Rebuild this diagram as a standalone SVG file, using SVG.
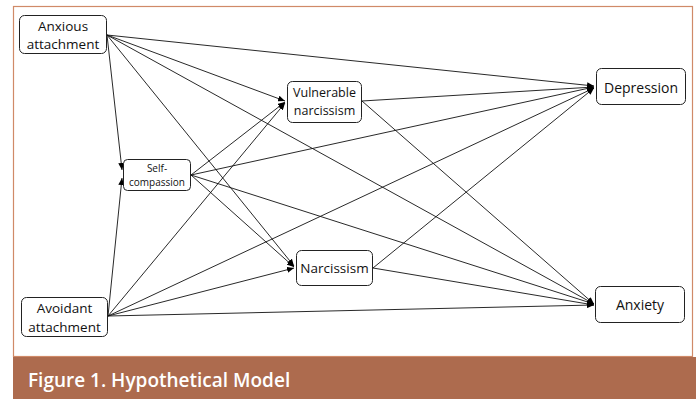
<svg xmlns="http://www.w3.org/2000/svg" width="696" height="399" viewBox="0 0 696 399">
<defs>
<marker id="ah" markerUnits="userSpaceOnUse" markerWidth="8" markerHeight="6" refX="7" refY="3" orient="auto">
<path d="M0,0 L7,3 L0,6 Z" fill="#000"/>
</marker>
<style>
.node rect{fill:#fff;stroke:#222;stroke-width:1}
.node text{font-family:"Open Sans","Liberation Sans",sans-serif;fill:#111;text-anchor:middle}
.conn line{stroke:#111;stroke-width:0.9;marker-end:url(#ah)}
.cap{font-family:"Open Sans","Liberation Sans",sans-serif;font-weight:600;fill:#fff;font-size:19px}
</style>
</defs>
<rect x="0" y="0" width="696" height="399" fill="#fff"/>
<rect x="13.5" y="6.5" width="679" height="350" fill="#fff" stroke="#d08a68" stroke-width="1.2"/>
<rect x="13" y="357" width="683" height="42" fill="#ad6b4e"/>
<text class="cap" x="28" y="387">Figure 1. Hypothetical Model</text>
<g class="conn" id="connectors">
<line x1="107" y1="35" x2="122" y2="170"/>
<line x1="107" y1="35" x2="285" y2="101"/>
<line x1="107" y1="35" x2="294" y2="266"/>
<line x1="107" y1="35" x2="594" y2="86"/>
<line x1="107" y1="35" x2="594" y2="304"/>
<line x1="108" y1="316" x2="122" y2="178"/>
<line x1="108" y1="316" x2="285" y2="103"/>
<line x1="108" y1="316" x2="294" y2="268"/>
<line x1="108" y1="316" x2="594" y2="88"/>
<line x1="108" y1="316" x2="594" y2="305"/>
<line x1="191" y1="175" x2="285" y2="102"/>
<line x1="191" y1="175" x2="294" y2="267"/>
<line x1="191" y1="175" x2="594" y2="87"/>
<line x1="191" y1="175" x2="594" y2="304"/>
<line x1="362" y1="101" x2="594" y2="87"/>
<line x1="362" y1="101" x2="594" y2="304"/>
<line x1="373" y1="268" x2="594" y2="88"/>
<line x1="373" y1="268" x2="594" y2="305"/>
</g>
<g class="node" id="anxious">
<rect x="19.5" y="15.5" width="87" height="38" rx="5"/>
<text x="63" y="31" font-size="13.5">Anxious</text>
<text x="63" y="49" font-size="13.5">attachment</text>
</g>
<g class="node" id="avoidant">
<rect x="21.5" y="297.5" width="86" height="39" rx="5"/>
<text x="64.5" y="313" font-size="13.5">Avoidant</text>
<text x="64.5" y="332" font-size="13.5">attachment</text>
</g>
<g class="node" id="selfcompassion">
<rect x="123.5" y="159.5" width="67" height="31" rx="4"/>
<text x="157" y="172" font-size="10">Self-</text>
<text x="157" y="186" font-size="10">compassion</text>
</g>
<g class="node" id="vulnerable">
<rect x="287.5" y="81.5" width="74" height="41" rx="5"/>
<text x="324.5" y="97" font-size="12.5">Vulnerable</text>
<text x="324.5" y="115" font-size="12.5">narcissism</text>
</g>
<g class="node" id="narcissism">
<rect x="296.5" y="250.5" width="76" height="35" rx="5"/>
<text x="334.5" y="273" font-size="13.5">Narcissism</text>
</g>
<g class="node" id="depression">
<rect x="596.5" y="68.5" width="89" height="36" rx="5"/>
<text x="641" y="93" font-size="14">Depression</text>
</g>
<g class="node" id="anxiety">
<rect x="595.5" y="286.5" width="89" height="36" rx="5"/>
<text x="640" y="310" font-size="14">Anxiety</text>
</g>
</svg>
